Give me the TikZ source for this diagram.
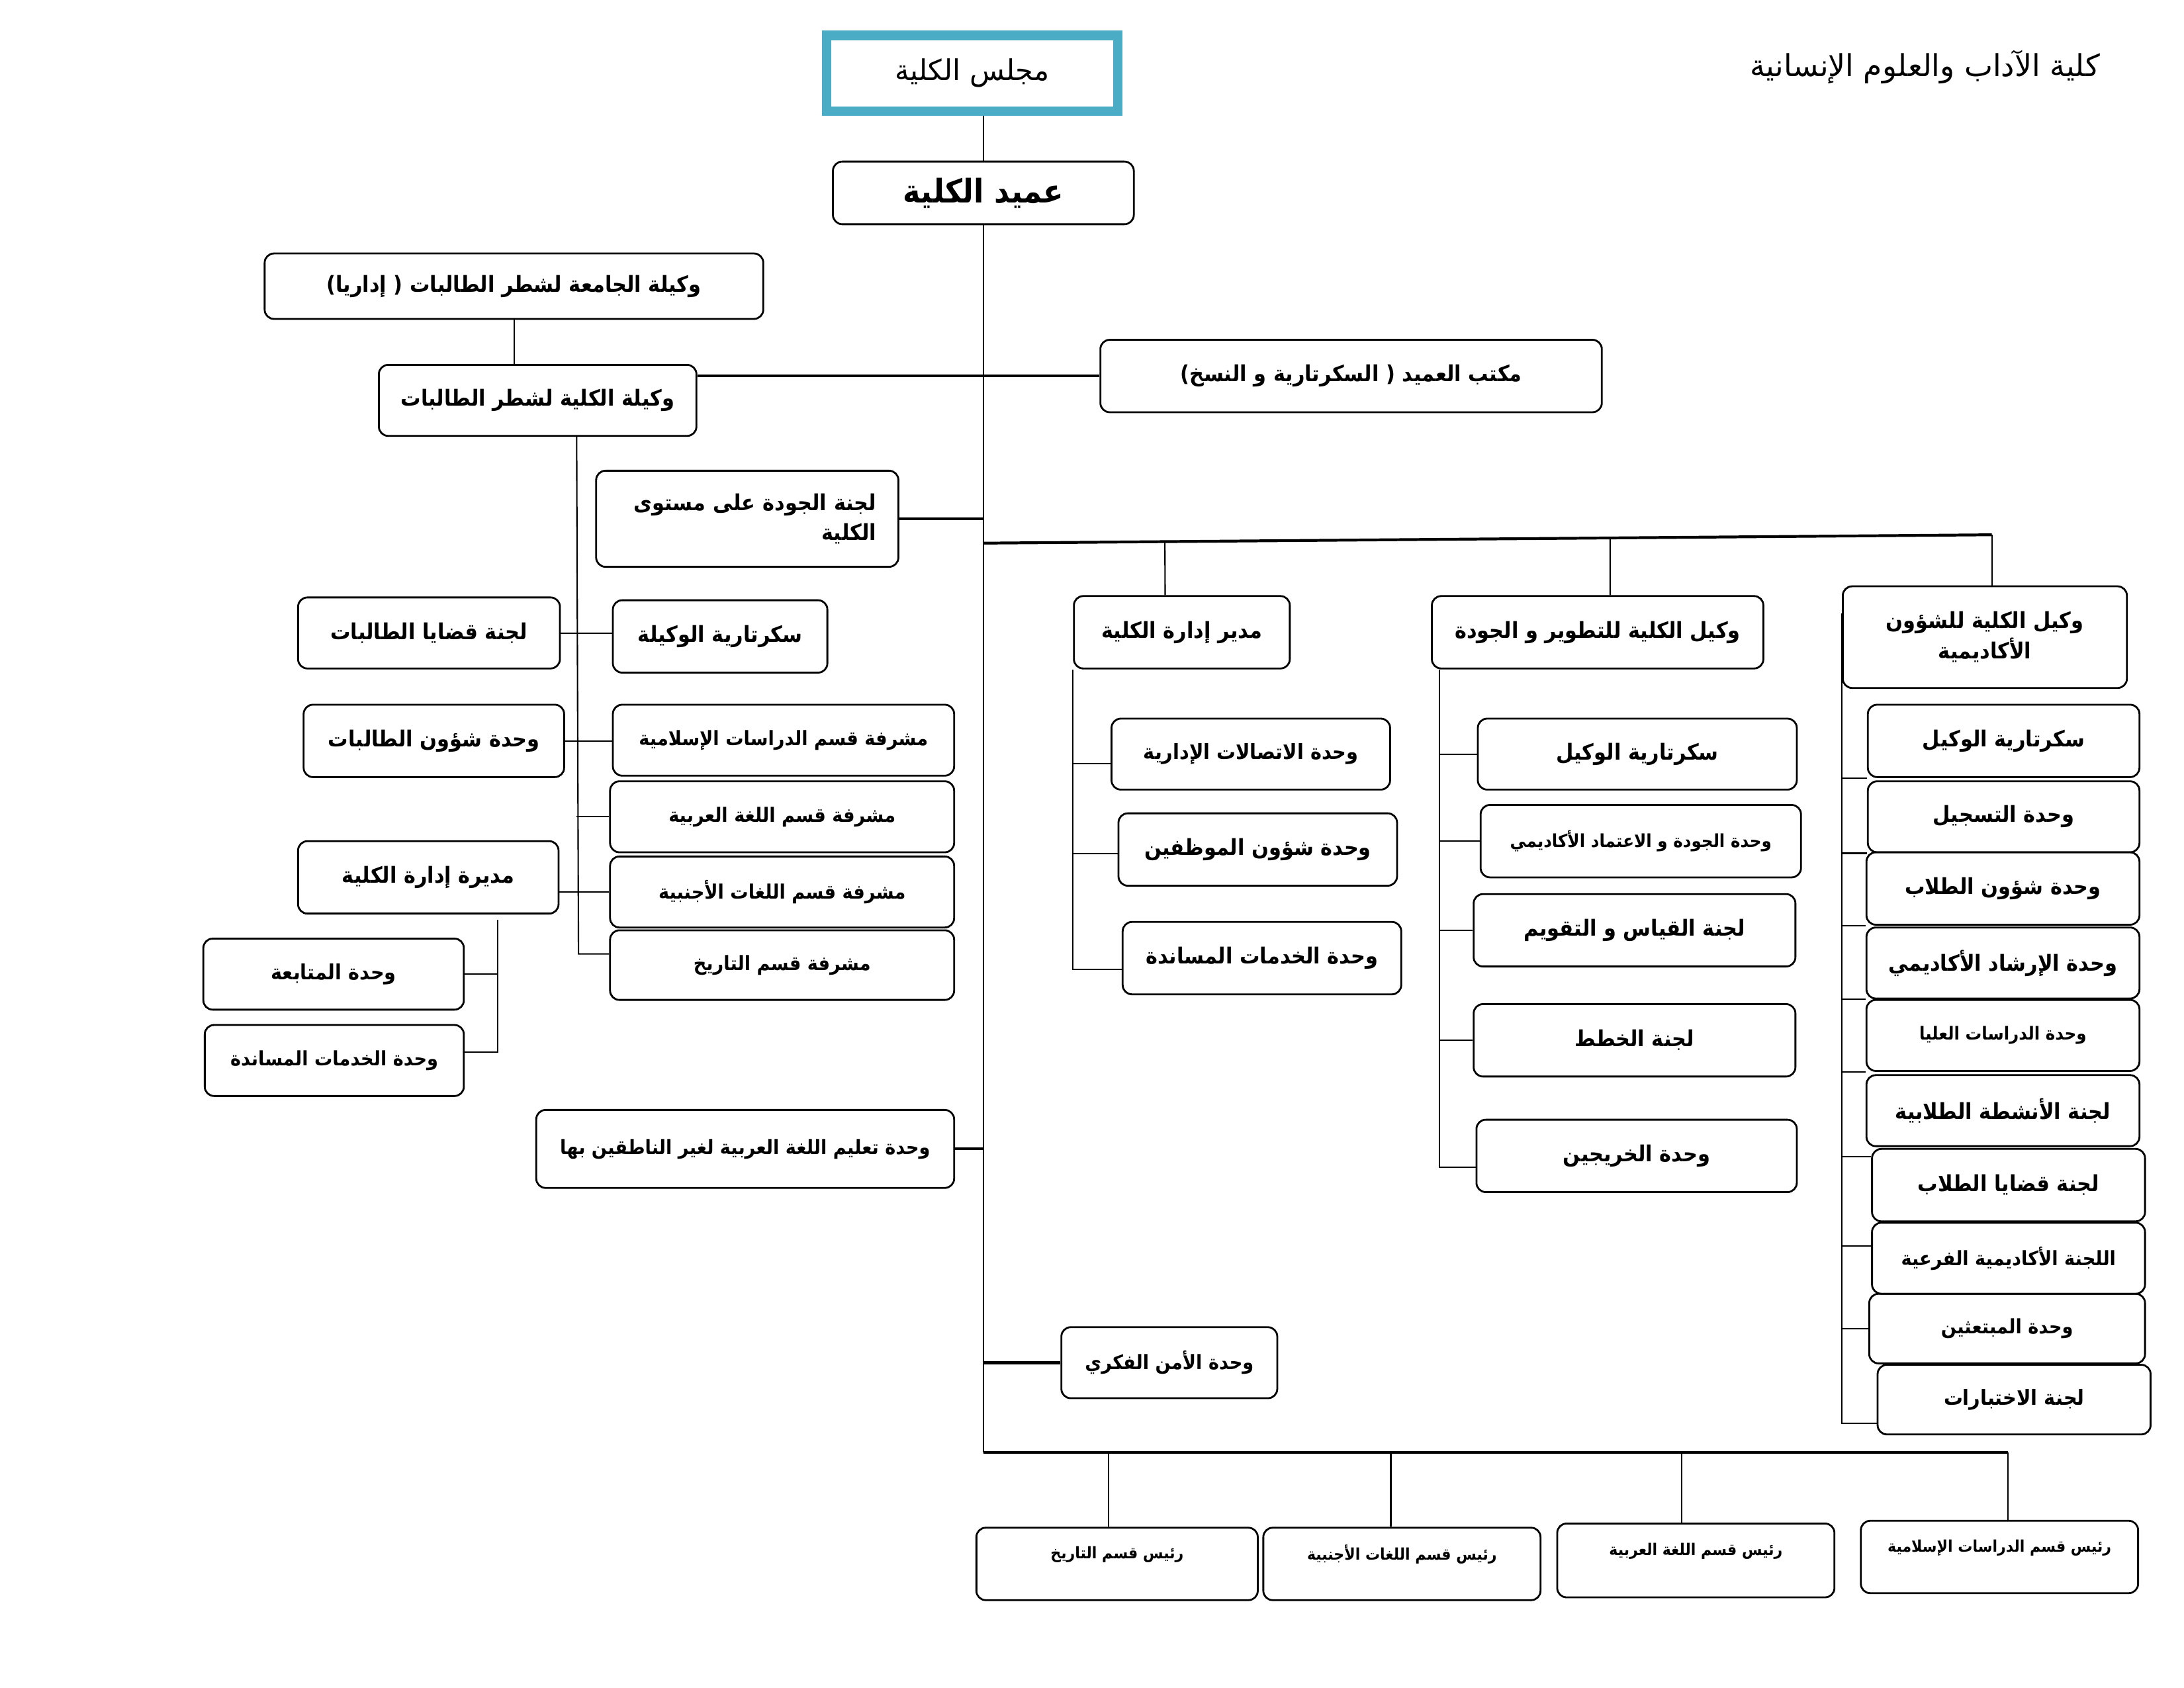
\documentclass[tikz,border=0pt]{standalone}
\usepackage{fontspec}
\usetikzlibrary{calc}
\TeXXeTstate=1
\newfontfamily\arfont[Script=Arabic, FakeStretch=0.91]{DejaVu Sans}
\newfontfamily\arplain[Script=Arabic]{DejaVu Sans}
\newcommand{\artxt}[1]{\beginR #1\endR}
\newcommand{\artxtup}[1]{\raisebox{4pt}[\height][\depth]{\beginR #1\endR}}
\definecolor{aqua}{HTML}{4BACC6}
\tikzset{
  wh/.style 2 args={minimum width=#1*0.021046cm, minimum height=#2*0.021046cm},
  box/.style={draw, rounded corners=4pt, line width=0.8pt, inner sep=0pt, align=center,
    font=\arfont\bfseries\fontsize{9.5}{13}\selectfont},
  bigtxt/.style={font=\arfont\bfseries\fontsize{9}{12}\selectfont},
  midtxt/.style={font=\arfont\bfseries\fontsize{8.5}{11}\selectfont},
  smalltxt/.style={font=\arfont\bfseries\fontsize{7.7}{10}\selectfont},
  tinytxt/.style={font=\arfont\bfseries\fontsize{6.9}{9}\selectfont},
  link/.style={line width=0.6pt},
  thicklink/.style={line width=1.2pt},
}
\begin{document}
\begin{tikzpicture}[x=0.021046cm, y=-0.021046cm]
    \useasboundingbox (0,0) rectangle (1568,1212);

    % タイトル
    \node (title) at (1382,48) [font=\arplain\fontsize{13}{16}\selectfont] {\artxt{كلية الآداب والعلوم الإنسانية}};

    % 上部の箱
    \node (council) at (698,52.5) [draw=aqua, line width=3.6pt, wh={210}{55}, font=\arplain\fontsize{12.3}{15}\selectfont] {\artxt{مجلس الكلية}};
    \draw [aqua, line width=0.9pt] ([shift={(6,6)}]council.north west) rectangle ([shift={(-6,-6)}]council.south east);
    \node (dean) at (706,138.5) [box, wh={216}{45}, font=\arfont\bfseries\fontsize{14}{17}\selectfont] {\artxt{عميد الكلية}};
    \node (uniVice) at (369,205.5) [box, wh={358}{47}] {\artxt{وكيلة الجامعة لشطر الطالبات ( إداريا)}};
    \node (collVice) at (386,287.5) [box, wh={228}{51}] {\artxt{وكيلة الكلية لشطر الطالبات}};
    \node (deanOff) at (970,270) [box, wh={360}{52}] {\artxt{مكتب العميد ( السكرتارية و النسخ)}};
    \node (quality) at (536.5,372.5) [box, wh={217}{69}, align=right, text width=3.9cm] {\artxt{لجنة الجودة على مستوى}\\\artxt{الكلية}};
    \node (mgrAdm) at (848.5,454) [box, wh={155}{52}] {\artxt{مدير إدارة الكلية}};
    \node (devVice) at (1147,454) [box, wh={238}{52}] {\artxt{وكيل الكلية للتطوير و الجودة}};
    \node (acadVice) at (1425,457.5) [box, wh={204}{73}] {\artxt{وكيل الكلية للشؤون}\\\artxt{الأكاديمية}};

    % 左側の箱
    \node (caseComm) at (308,454.5) [box, wh={188}{51}] {\artxt{لجنة قضايا الطالبات}};
    \node (secF) at (517,457) [box, wh={154}{52}] {\artxt{سكرتارية الوكيلة}};
    \node (stdAff) at (311.5,532) [box, wh={187}{52}] {\artxt{وحدة شؤون الطالبات}};
    \node (supIsl) at (562.5,531.5) [box, midtxt, wh={245}{51}] {\artxt{مشرفة قسم الدراسات الإسلامية}};
    \node (supAr) at (561.5,586.5) [box, midtxt, wh={247}{51}] {\artxt{مشرفة قسم اللغة العربية}};
    \node (supFor) at (561.5,640.5) [box, midtxt, wh={247}{51}] {\artxt{مشرفة قسم اللغات الأجنبية}};
    \node (supHist) at (561.5,693) [box, midtxt, wh={247}{50}] {\artxt{مشرفة قسم التاريخ}};
    \node (mgrF) at (307.5,630) [box, wh={187}{52}] {\artxt{مديرة إدارة الكلية}};
    \node (follow) at (239.5,699.5) [box, bigtxt, wh={187}{51}] {\artxt{وحدة المتابعة}};
    \node (supportL) at (240,761.5) [box, midtxt, wh={186}{51}] {\artxt{وحدة الخدمات المساندة}};
    \node (arabNon) at (535,825) [box, midtxt, wh={300}{56}] {\artxt{وحدة تعليم اللغة العربية لغير الناطقين بها}};
    \node (secur) at (839.5,978.5) [box, midtxt, wh={155}{51}] {\artxt{وحدة الأمن الفكري}};

    % 中央の箱
    \node (comm) at (898,541.5) [box, bigtxt, wh={200}{51}] {\artxt{وحدة الاتصالات الإدارية}};
    \node (staff) at (903,610) [box, wh={200}{52}] {\artxt{وحدة شؤون الموظفين}};
    \node (supportM) at (906,688) [box, wh={200}{52}] {\artxt{وحدة الخدمات المساندة}};
    \node (secM) at (1175.5,541.5) [box, wh={229}{51}] {\artxt{سكرتارية الوكيل}};
    \node (qaUnit) at (1178,604) [box, smalltxt, wh={230}{52}] {\artxt{وحدة الجودة و الاعتماد الأكاديمي}};
    \node (measure) at (1173.5,668) [box, wh={231}{52}] {\artxt{لجنة القياس و التقويم}};
    \node (plans) at (1173.5,747) [box, wh={231}{52}] {\artxt{لجنة الخطط}};
    \node (alumni) at (1175,830) [box, wh={230}{52}] {\artxt{وحدة الخريجين}};

    % 右側の箱
    \node (a1) at (1438.5,532) [box, wh={195}{52}] {\artxt{سكرتارية الوكيل}};
    \node (a2) at (1438.5,586.5) [box, wh={195}{51}] {\artxt{وحدة التسجيل}};
    \node (a3) at (1438,638) [box, wh={196}{52}] {\artxt{وحدة شؤون الطلاب}};
    \node (a4) at (1438,691.5) [box, wh={196}{51}] {\artxt{وحدة الإرشاد الأكاديمي}};
    \node (a5) at (1438,743.5) [box, smalltxt, wh={196}{51}] {\artxt{وحدة الدراسات العليا}};
    \node (a6) at (1438,797.5) [box, wh={196}{51}] {\artxt{لجنة الأنشطة الطلابية}};
    \node (a7) at (1442,851) [box, wh={196}{52}] {\artxt{لجنة قضايا الطلاب}};
    \node (a8) at (1442,903.5) [box, midtxt, wh={196}{51}] {\artxt{اللجنة الأكاديمية الفرعية}};
    \node (a9) at (1441,954) [box, midtxt, wh={198}{50}] {\artxt{وحدة المبتعثين}};
    \node (a10) at (1446,1005) [box, bigtxt, wh={196}{50}] {\artxt{لجنة الاختبارات}};

    % 下部の箱
    \node (h1) at (802,1123) [box, tinytxt, wh={202}{52}] {\artxtup{رئيس قسم التاريخ}};
    \node (h2) at (1006.5,1123) [box, tinytxt, wh={199}{52}] {\artxtup{رئيس قسم اللغات الأجنبية}};
    \node (h3) at (1217.5,1120.5) [box, tinytxt, wh={199}{53}] {\artxtup{رئيس قسم اللغة العربية}};
    \node (h4) at (1435.5,1118) [box, tinytxt, wh={199}{52}] {\artxtup{رئيس قسم الدراسات الإسلامية}};

    % 幹線
    \coordinate (tb) at (706,1043);
    \draw [link] (council.south -| dean.north) -- (dean.north);
    \draw [link] (dean.south) -- (tb);
    \draw [link] (uniVice.south) -- (uniVice.south |- collVice.north);
    \draw [thicklink] (collVice.east |- deanOff.west) -- (deanOff.west);
    \draw [thicklink] (quality.east) -- (quality.east -| dean.south);
    \draw [thicklink] (arabNon.east) -- (arabNon.east -| dean.south);
    \draw [thicklink] (secur.west) -- (secur.west -| dean.south);

    % 分岐線
    \coordinate (brL) at (706,390);
    \coordinate (brR) at (1430,384);
    \draw [thicklink] (brL) -- (brR);
    \draw [link] ($(brL)!0.18!(brR)$) -- ([shift={(-12,0)}]mgrAdm.north);
    \draw [link] ($(brL)!0.6215!(brR)$) -- ([shift={(9,0)}]devVice.north);
    \draw [link] (brR) -- ([shift={(5,0)}]acadVice.north);

    % 左側の線
    \coordinate (lbusT) at ([shift={(28,0)}]collVice.south);
    \coordinate (lbusB) at ([shift={(-22,-8)}]supHist.west);
    \draw [link] (lbusT) -- (lbusB) -- ([shift={(0,-8)}]supHist.west);
    \draw [link] (caseComm.east) -- (secF.west |- caseComm.east);
    \draw [link] (stdAff.east) -- (supIsl.west |- stdAff.east);
    \draw [link] (supAr.west) -- (supAr.west -| lbusT);
    \draw [link] (supFor.west -| mgrF.east) -- (supFor.west);
    \coordinate (mbusT) at ([shift={(50,4)}]mgrF.south);
    \draw [link] (mbusT) |- ([shift={(0,-6)}]supportL.east);
    \draw [link] (follow.east) -- (follow.east -| mbusT);

    % 中央の線
    \draw [link] (mgrAdm.south west) |- ([shift={(0,8)}]supportM.west);
    \draw [link] ([shift={(0,7)}]comm.west) coordinate (cm) -- (cm -| mgrAdm.south west);
    \draw [link] ([shift={(0,3)}]staff.west) coordinate (st) -- (st -| mgrAdm.south west);
    \coordinate (dbus) at ([shift={(6,0)}]devVice.south west);
    \draw [link] (dbus) |- ([shift={(0,8)}]alumni.west);
    \draw [link] (secM.west) -- (secM.west -| dbus);
    \draw [link] (qaUnit.west) -- (qaUnit.west -| dbus);
    \draw [link] (measure.west) -- (measure.west -| dbus);
    \draw [link] (plans.west) -- (plans.west -| dbus);

    % 右側の線
    \draw [link] ([shift={(0,-17)}]acadVice.west) |- ([shift={(0,17)}]a10.west);
    \draw [link] (a1.south west) -- (a1.south west -| acadVice.west);
    \draw [link] (a2.south west) -- (a2.south west -| acadVice.west);
    \draw [link] (a3.south west) -- (a3.south west -| acadVice.west);
    \draw [link] (a4.south west) -- (a4.south west -| acadVice.west);
    \draw [link] (a5.south west) -- (a5.south west -| acadVice.west);
    \draw [link] ([shift={(0,6)}]a7.north west) coordinate (q7) -- (q7 -| acadVice.west);
    \draw [link] ([shift={(0,-9)}]a8.west) coordinate (q8) -- (q8 -| acadVice.west);
    \draw [link] (a9.west) -- (a9.west -| acadVice.west);

    % 下部の線
    \coordinate (d4) at ([shift={(6,0)}]h4.north);
    \draw [thicklink] (tb) -- (tb -| d4);
    \draw [link] (d4) -- (d4 |- tb);
    \draw [link] ([shift={(-6,0)}]h1.north) -- ([shift={(-6,0)}]h1.north |- tb);
    \draw [link] ([shift={(-8,0)}]h2.north) -- ([shift={(-8,0)}]h2.north |- tb);
    \draw [link] ([shift={(-10,0)}]h3.north) -- ([shift={(-10,0)}]h3.north |- tb);

\end{tikzpicture}
\end{document}
